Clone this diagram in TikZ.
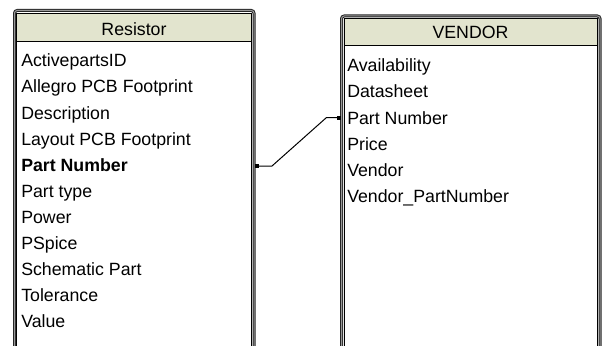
\documentclass[tikz,border=0pt]{standalone}
\usepackage{fontspec}
\setmainfont{Liberation Sans}
\usepackage{xcolor}
\usepackage{tikz}
\usetikzlibrary{positioning,calc}

\definecolor{headfill}{RGB}{226,228,206}
\tikzset{
  frame/.style={draw=black!85, line width=0.75pt, double=black!40, double distance=0.75pt, rounded corners=2pt},
  tablebox/.style={draw=black, line width=0.75pt, fill=white},
  headbox/.style={draw=black, line width=0.75pt, fill=headfill},
  field/.style={anchor=base west, inner sep=0pt, font=\fontsize{13.3}{16}\selectfont},
  title/.style={inner sep=0pt, font=\fontsize{13.3}{16}\selectfont},
  pin/.style={fill=black, minimum size=3pt, inner sep=0pt}
}

\begin{document}
\begin{tikzpicture}[x=0.75pt, y=-0.75pt]
  \useasboundingbox (0,0) rectangle (603,346);
  \clip (0,0) rectangle (603,346);
  \fill[white] (0,0) rectangle (603,346);
  % Resistor table
  \draw[frame] (14.5,10.5) rectangle (254,380);
  \draw[tablebox] (16.5,13.5) rectangle (251.5,380);
  \draw[headbox] (16.5,13.5) rectangle (251.5,41.5);
  \node[title] (res) at (134,29) {Resistor};
  \foreach \t [count=\i from 0] in {ActivepartsID, Allegro PCB Footprint, Description,
      Layout PCB Footprint, \textbf{Part Number}, Part type, Power, PSpice,
      Schematic Part, Tolerance, Value}
    \node[field] (r\i) at (21,67+26*\i) {\t};
  % VENDOR table
  \draw[frame] (341.5,16) rectangle (600,380);
  \draw[tablebox] (344,18.5) rectangle (597.5,380);
  \draw[headbox] (344,18.5) rectangle (597.5,45.5);
  \node[title] (ven) at (470.5,32.5) {VENDOR};
  \foreach \t [count=\i from 0] in {Availability, Datasheet, Part Number, Price,
      Vendor, Vendor\_PartNumber}
    \node[field] (v\i) at (347,72+26*\i) {\t};
  % link Part Number -- Part Number
  \node[pin] (rpin) at (257,166) {};
  \node[pin] (vpin) at (338.5,117.5) {};
  \draw[line width=0.75pt] (rpin.center) -- ++(15,0) -- ($(vpin.center)+(-12,0)$) -- (vpin.center);
\end{tikzpicture}
\end{document}
